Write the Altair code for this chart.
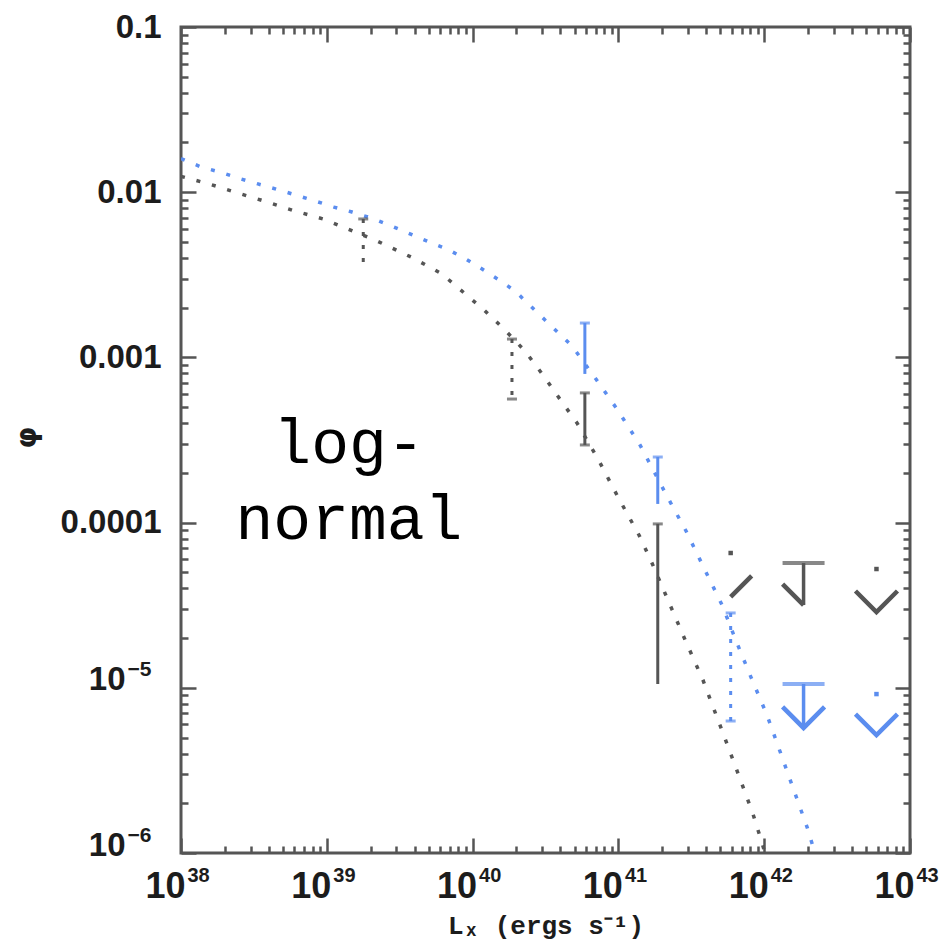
import altair as alt
import pandas as pd

# ---------------- data (log10 values) ----------------
black_logL = [38.0, 38.192, 38.391, 38.590, 38.782, 38.974, 39.145, 39.344, 39.591, 39.790,
              40.078, 40.215, 40.359, 40.483, 40.579, 40.716, 40.860, 40.997, 41.141, 41.224,
              41.340, 41.464, 41.580, 41.717, 41.827, 41.923, 41.985, 42.005]
black_logphi = [-1.904, -1.950, -2.005, -2.059, -2.114, -2.162, -2.223, -2.295, -2.398, -2.495,
                -2.713, -2.828, -2.961, -3.107, -3.228, -3.397, -3.615, -3.845, -4.075, -4.232,
                -4.469, -4.723, -4.953, -5.274, -5.534, -5.764, -5.939, -6.0]

blue_logL = [38.0, 38.137, 38.288, 38.412, 38.528, 38.652, 38.809, 38.940, 39.049, 39.173,
             39.324, 39.461, 39.557, 39.701, 39.825, 39.941, 40.065, 40.181, 40.291, 40.490,
             40.682, 40.846, 40.990, 41.148, 41.340, 41.464, 41.587, 41.711, 41.813, 41.909,
             42.019, 42.115, 42.198, 42.294, 42.348]
blue_logphi = [-1.796, -1.847, -1.884, -1.920, -1.950, -1.981, -2.023, -2.059, -2.090, -2.120,
               -2.162, -2.211, -2.247, -2.301, -2.344, -2.398, -2.465, -2.531, -2.598, -2.768,
               -2.931, -3.131, -3.312, -3.530, -3.851, -4.051, -4.275, -4.499, -4.729, -4.935,
               -5.165, -5.401, -5.607, -5.843, -6.0]

# error bars
err_series = ["black", "black", "black", "black", "blue", "blue", "blue"]
err_logL = [39.25, 40.27, 40.77, 41.27, 40.77, 41.27, 41.77]
err_hi = [-2.162, -2.889, -3.215, -4.008, -2.792, -3.603, -4.547]
err_lo = [-2.429, -3.252, -3.530, -4.977, -3.100, -3.887, -5.201]
err_dotted = [True, True, False, False, False, False, True]
err_lowcap = [False, True, True, False, False, False, True]

# upper limits
ul_series = ["black", "black", "black", "blue", "blue"]
ul_logL = [41.77, 42.27, 42.77, 42.27, 42.77]
ul_top = [-4.184, -4.245, -4.281, -4.977, -5.038]
ul_tip = [-4.450, -4.499, -4.541, -5.243, -5.286]
ul_full = [False, True, False, True, False]
ul_head = ["right", "left", "both", "both", "both"]

# annotation
note_text = ["log-", "normal"]
note_logL = [39.152, 39.152]
note_logphi = [-3.639, -4.099]

# axes
x_major_exp = [38, 39, 40, 41, 42, 43]
x_major_base = ["10", "10", "10", "10", "10", "10"]
x_major_sup = ["38", "39", "40", "41", "42", "43"]
y_major_exp = [-6, -5, -4, -3, -2, -1]
y_major_dec = ["", "", "0.0001", "0.001", "0.01", "0.1"]
y_major_base = ["10", "10", "", "", "", ""]
y_major_sup = ["−6", "−5", "", "", "", ""]

# ---------------- tables ----------------
rows = []
for s, xs_, ys_ in (("black", black_logL, black_logphi), ("blue", blue_logL, blue_logphi)):
    for i, (a, b) in enumerate(zip(xs_, ys_)):
        rows.append({"series": s, "idx": i, "L": 10 ** a, "phi": 10 ** b})
curve_df = pd.DataFrame(rows)

err_df = pd.DataFrame({
    "series": err_series,
    "L": [10 ** v for v in err_logL],
    "hi": [10 ** v for v in err_hi],
    "lo": [10 ** v for v in err_lo],
    "dotted": err_dotted,
    "lowcap": err_lowcap,
})
ul_df = pd.DataFrame({
    "series": ul_series,
    "L": [10 ** v for v in ul_logL],
    "top": [10 ** v for v in ul_top],
    "tip": [10 ** v for v in ul_tip],
    "full": ul_full,
    "head": ul_head,
})
note_df = pd.DataFrame({
    "text": note_text,
    "L": [10 ** v for v in note_logL],
    "phi": [10 ** v for v in note_logphi],
})

W, H = 729, 826
FRAME = "#555555"
LABEL = "#1c1c1c"
FONT = "Liberation Sans"

xs = alt.Scale(type="log", domain=[1e38, 1e43], nice=False)
ys = alt.Scale(type="log", domain=[1e-6, 0.1], nice=False)
cs = alt.Scale(domain=["black", "blue"], range=["#555555", "#5b8def"])


def label_expr(exps, labs):
    parts = [f"datum.value < {1.5 * 10.0 ** e!r} ? '{lab}'" for e, lab in zip(exps[:-1], labs[:-1])]
    return " : ".join(parts) + f" : '{labs[-1]}'"


x_major = [10.0 ** e for e in x_major_exp]
y_major = [10.0 ** e for e in y_major_exp]
x_minor = [m * 10.0 ** e for e in x_major_exp[:-1] for m in range(2, 10)]
y_minor = [m * 10.0 ** e for e in y_major_exp[:-1] for m in range(2, 10)]

plain = dict(ticks=False, domain=False, labelFont=FONT, labelFontWeight="bold",
             labelColor=LABEL, labelFlush=False, labelOverlap=False)

major_x_axis = alt.Axis(
    orient="bottom", values=x_major, labelExpr=label_expr(x_major_exp, x_major_base),
    labelFontSize=36, labelPadding=16, labelAlign="right", labelOffset=4,
    grid=True, gridColor=FRAME, gridWidth=2.5, gridOpacity=1, gridDash=[15, H - 30, 15, 10000],
    title="Lₓ (ergs s⁻¹)", titleFont="Liberation Mono", titleFontWeight="bold", titleFontSize=26,
    titleColor=LABEL, titleY=80, titleBaseline="alphabetic", **plain,
)
sup_x_axis = alt.Axis(
    orient="bottom", values=x_major, labelExpr=label_expr(x_major_exp, x_major_sup),
    labelFontSize=20, labelPadding=12, labelAlign="left", labelOffset=6, grid=False, title=None, **plain,
)
major_y_axis = alt.Axis(
    orient="left", values=y_major, labelExpr=label_expr(y_major_exp, y_major_dec),
    labelFontSize=33, labelPadding=20,
    grid=True, gridColor=FRAME, gridWidth=2.5, gridOpacity=1, gridDash=[15, W - 30, 15, 10000],
    title="φ", titleFont="DejaVu Sans", titleFontWeight="bold", titleFontSize=28, titleColor=LABEL,
    titleX=-154, titleY=410, titleAngle=-90, titleAlign="center", titleBaseline="middle", **plain,
)
base_y_axis = alt.Axis(
    orient="left", values=y_major, labelExpr=label_expr(y_major_exp, y_major_base),
    labelFontSize=33, labelPadding=56, labelAlign="right", labelOffset=-8, grid=False, title=None, **plain,
)
sup_y_axis = alt.Axis(
    orient="left", values=y_major, labelExpr=label_expr(y_major_exp, y_major_sup),
    labelFontSize=21, labelPadding=54, labelAlign="left", labelOffset=-18, grid=False, title=None, **plain,
)
minor_x_axis = alt.Axis(
    orient="top", values=x_minor, labels=False, ticks=False, domain=False,
    grid=True, gridColor=FRAME, gridWidth=2.5, gridOpacity=1, gridDash=[7, H - 14, 7, 10000],
    title=None,
)
minor_y_axis = alt.Axis(
    orient="right", values=y_minor, labels=False, ticks=False, domain=False,
    grid=True, gridColor=FRAME, gridWidth=2.5, gridOpacity=1, gridDash=[7, W - 14, 7, 10000],
    title=None,
)

color = alt.Color("series:N", scale=cs, legend=None)


def X(field="L", axis=None):
    return alt.X(f"{field}:Q", scale=xs, axis=axis)


def Y(field, axis=None):
    return alt.Y(f"{field}:Q", scale=ys, axis=axis)


curves = alt.Chart(curve_df).mark_line(strokeDash=[4, 12], strokeWidth=3.5, clip=True).encode(
    x=X("L", major_x_axis), y=Y("phi", major_y_axis),
    color=color, detail="series:N", order="idx:Q",
)
minor = alt.Chart(curve_df).mark_point(opacity=0).encode(
    x=X("L", minor_x_axis), y=Y("phi", minor_y_axis))
sup1 = alt.Chart(curve_df).mark_point(opacity=0).encode(
    x=X("L", sup_x_axis), y=Y("phi", base_y_axis))
sup2 = alt.Chart(curve_df).mark_point(opacity=0).encode(
    x=X("L"), y=Y("phi", sup_y_axis))

err_solid = alt.Chart(err_df).transform_filter("!datum.dotted").mark_rule(strokeWidth=3).encode(
    x=X(), y=Y("hi"), y2="lo:Q", color=color)
err_dot = alt.Chart(err_df).transform_filter("datum.dotted").mark_rule(
    strokeWidth=3, strokeDash=[4, 9]).encode(x=X(), y=Y("hi"), y2="lo:Q", color=color)
cap_hi = alt.Chart(err_df).mark_tick(orient="horizontal", size=10, thickness=3).encode(
    x=X(), y=Y("hi"), color=color)
cap_lo = alt.Chart(err_df).transform_filter("datum.lowcap").mark_tick(
    orient="horizontal", size=10, thickness=3).encode(x=X(), y=Y("lo"), color=color)

ul_stem = alt.Chart(ul_df).transform_filter("datum.full").mark_rule(strokeWidth=3.5).encode(
    x=X(), y=Y("top"), y2="tip:Q", color=color)
ul_cap = alt.Chart(ul_df).transform_filter("datum.full").mark_tick(
    orient="horizontal", size=42, thickness=4).encode(x=X(), y=Y("top"), color=color)
ul_dot = alt.Chart(ul_df).transform_filter("!datum.full").mark_point(
    shape="square", filled=True, size=20, opacity=1).encode(x=X(), y=Y("top"), color=color)
ul_headm = alt.Chart(ul_df).mark_point(filled=False, size=1764, strokeWidth=4.5, opacity=1).encode(
    x=X(), y=Y("tip"), color=color,
    shape=alt.Shape("head:N", legend=None, scale=alt.Scale(
        domain=["both", "left", "right"],
        range=["M-1,-1L0,0L1,-1", "M-1,-1L0,0", "M0,0L1,-1"])),
)

note = alt.Chart(note_df).mark_text(
    font="Liberation Mono", fontSize=63, align="center", baseline="alphabetic", color="black"
).encode(x=X(), y=Y("phi"), text="text:N")

chart = alt.layer(
    curves, minor, sup1, sup2, err_solid, err_dot, cap_hi, cap_lo,
    ul_stem, ul_cap, ul_dot, ul_headm, note
).resolve_axis(x="independent", y="independent").properties(
    width=W, height=H,
    padding={"left": 173, "top": 19, "right": 30, "bottom": 90},
    autosize=alt.AutoSizeParams(type="none"),
).configure_view(stroke=FRAME, strokeWidth=3)

chart.save("out.html", embed_options={"renderer": "svg", "actions": False})
